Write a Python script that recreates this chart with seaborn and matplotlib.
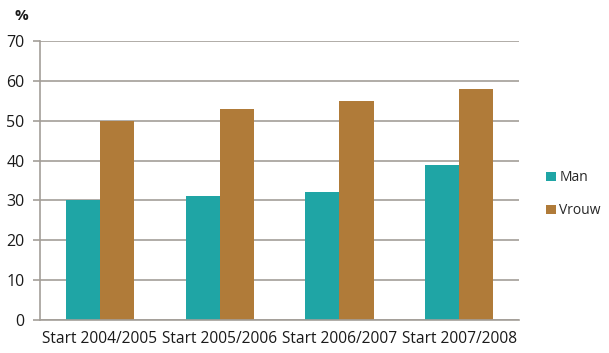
import matplotlib
matplotlib.use("Agg")
import matplotlib.pyplot as plt
import seaborn as sns
import pandas as pd

categories = ["Start 2004/2005", "Start 2005/2006", "Start 2006/2007", "Start 2007/2008"]
man = [30, 31, 32, 39]
vrouw = [50, 53, 55, 58]
series = ["Man", "Vrouw"]
colors = ["#1FA5A5", "#B07B39"]

df = pd.DataFrame({
    "periode": categories * 2,
    "waarde": man + vrouw,
    "geslacht": [series[0]] * len(categories) + [series[1]] * len(categories),
})

sns.set_style("white")
plt.rcParams["font.family"] = ["Open Sans", "DejaVu Sans"]

fig = plt.figure(figsize=(6.09, 3.53), dpi=100)
ax = fig.add_axes([0.0657, 0.0935, 0.7865, 0.7905])

sns.barplot(data=df, x="periode", y="waarde", hue="geslacht",
            palette=colors, width=0.57, saturation=1, ax=ax, linewidth=0)

grid_col = "#A39E98"
ax.set_ylim(0, 70)
ax.set_xlim(-0.5, 3.5)
ax.set_yticks(range(0, 71, 10))
ax.yaxis.grid(True, color=grid_col, linewidth=1.2)
ax.set_axisbelow(True)
for s in ["top", "right"]:
    ax.spines[s].set_visible(False)
for s in ["left", "bottom"]:
    ax.spines[s].set_color(grid_col)
    ax.spines[s].set_linewidth(1.2)

ax.set_xticks(range(len(categories)))
ax.set_xticklabels(categories)
ax.set_xticks([-0.5, 0.5, 1.5, 2.5, 3.5], minor=True)
ax.tick_params(axis="x", which="major", length=0, pad=8, labelsize=11.2, labelcolor="#1a1a1a")
ax.tick_params(axis="x", which="minor", length=5, width=1.2, color=grid_col, direction="out")
ax.tick_params(axis="y", length=5, width=1.2, color=grid_col, direction="out", left=True,
               labelsize=11.5, labelcolor="#1a1a1a", pad=6)
ax.set_xlabel("")
ax.set_ylabel("")

fig.text(0.035, 0.955, "%", fontsize=11, fontweight="bold", color="#1a1a1a",
         ha="center", va="center")

ax.legend(loc="center left", bbox_to_anchor=(1.057, 0.45), frameon=False,
          borderpad=0, borderaxespad=0,
          fontsize=10, handlelength=0.7, handleheight=0.7, handletextpad=0.25,
          labelspacing=1.3)

fig.savefig("out.png", dpi=100, facecolor="white")
